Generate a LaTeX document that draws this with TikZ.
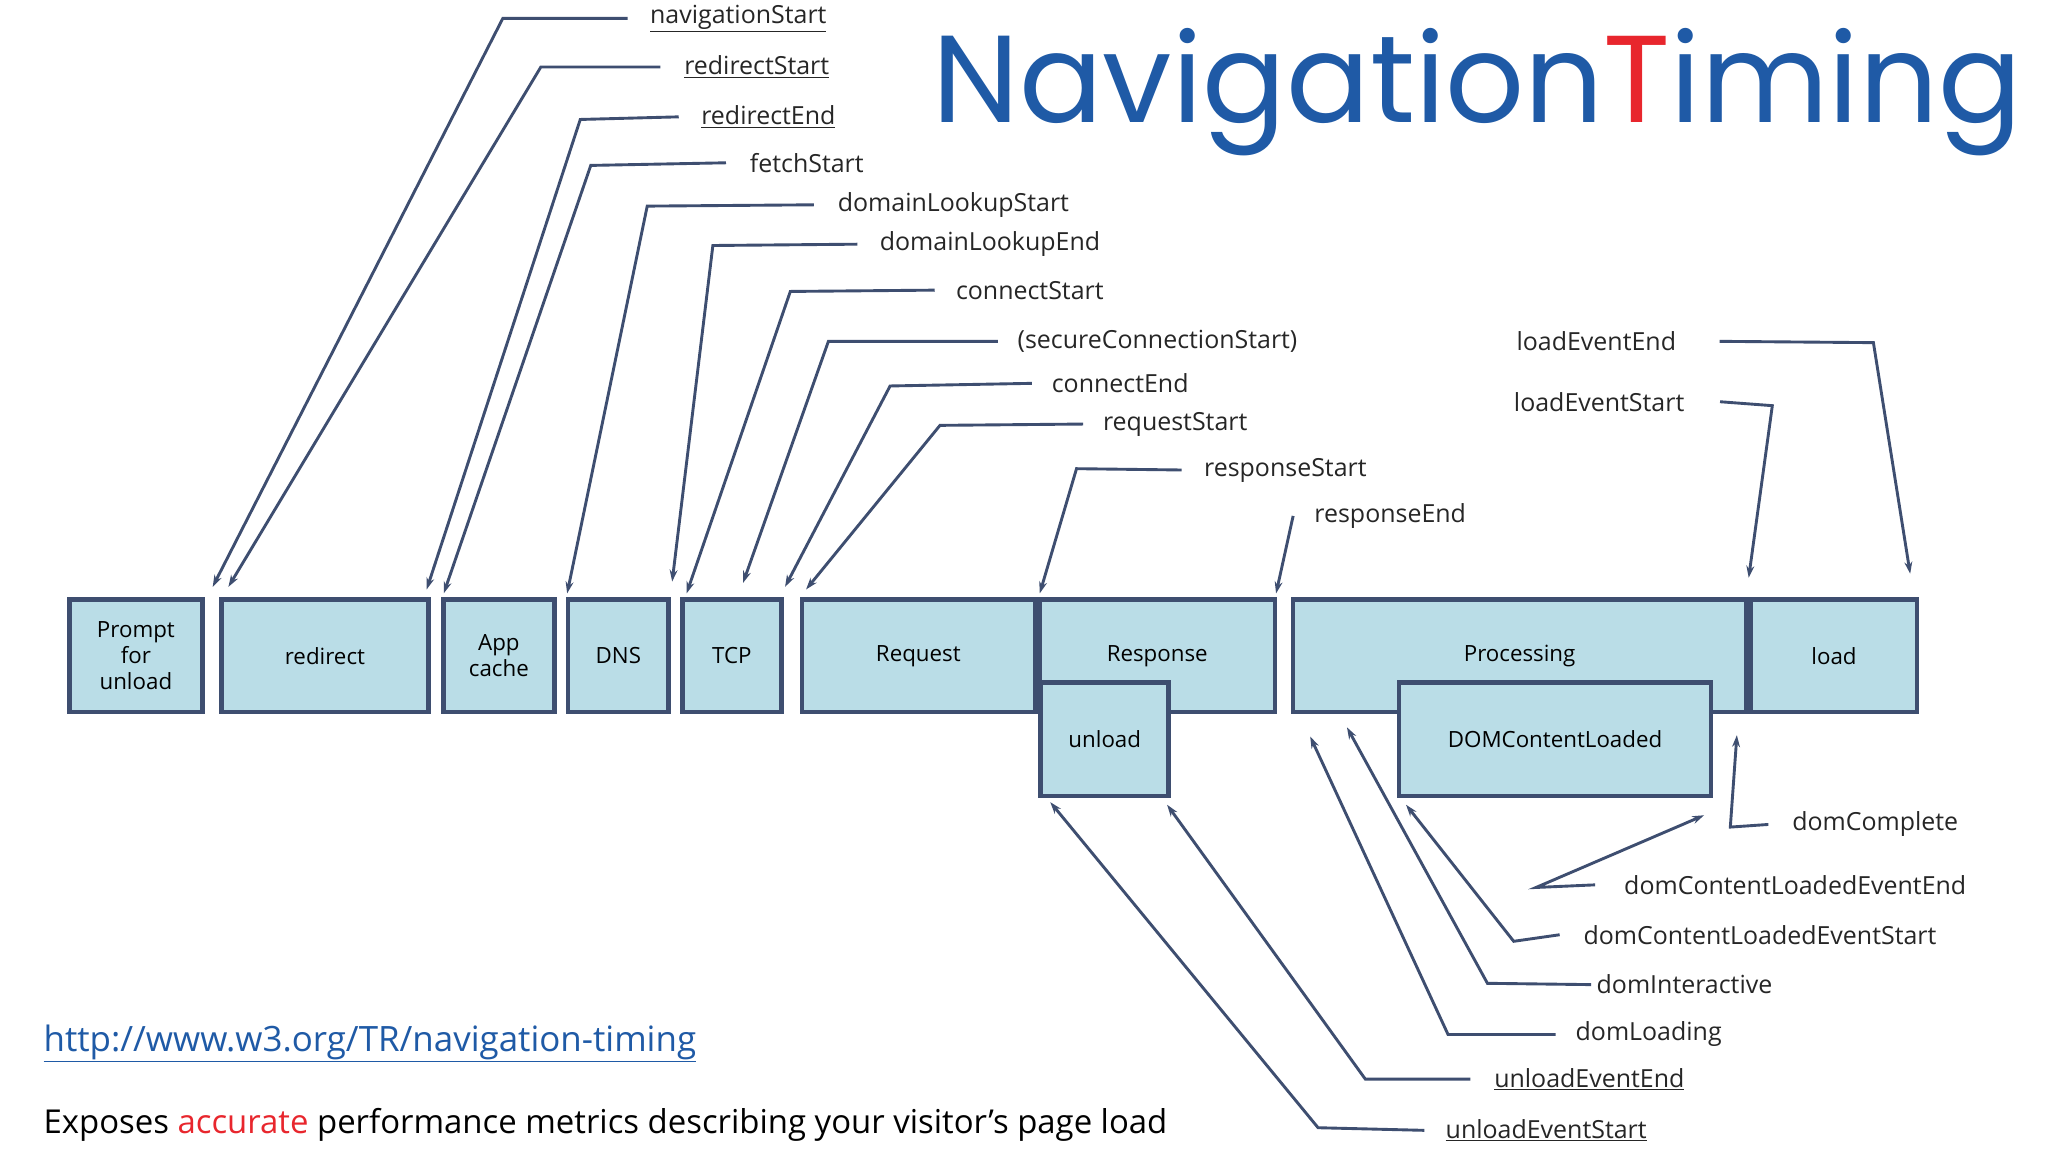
\documentclass[tikz,border=0pt]{standalone}
\usepackage{fontspec}
\setmainfont{Open Sans}
\newfontfamily\titlefont{Poppins}
\usetikzlibrary{arrows.meta}
\definecolor{boxfill}{HTML}{BADDE7}
\definecolor{edge}{HTML}{3E4E70}
\definecolor{ttl}{HTML}{1F5AA6}
\definecolor{tred}{HTML}{E8262D}
\definecolor{url}{HTML}{1F5AA6}
\begin{document}
\begin{tikzpicture}[x=1pt,y=-1pt,
  box/.style={draw=edge,line width=3.5pt,fill=boxfill,inner sep=0pt,font=\fontsize{17}{20}\selectfont,align=center},
  lab/.style={anchor=west,inner sep=0pt,font=\fontsize{19}{22}\selectfont,text=black!85},
  con/.style={draw=edge,line width=2.2pt,-{Stealth[length=9pt,width=6pt]}}]
\useasboundingbox (0,0) rectangle (1560,878);
\fill[white] (0,0) rectangle (1560,878);
\newcommand{\bx}[6]{\node[box,minimum width={#4-#2-3.5},minimum height={#5-#3-3.5}] (#1) at ({(#2+#4)/2},{(#3+#5)/2}) {#6};}
\bx{prompt}{51}{455}{156}{544}{Prompt\\for\\unload}
\bx{redirect}{167}{455}{328}{544}{redirect}
\bx{app}{336}{455}{424}{544}{App\\cache}
\bx{dns}{431}{455}{511}{544}{DNS}
\bx{tcp}{518}{455}{597}{544}{TCP}
\bx{request}{609}{455}{790}{544}{Request}
\bx{response}{790}{455}{973}{544}{Response}
\bx{unload}{791}{518}{892}{608}{unload}
\bx{processing}{983}{455}{1332}{544}{Processing}
\bx{load}{1332}{455}{1462}{544}{load}
\bx{dcl}{1064}{518}{1305}{608}{DOMContentLoaded}
\newcommand{\lb}[7]{\node[lab] (#1) at (#2,#3) {#4};
  \coordinate (#1b) at (#5); \coordinate (#1t) at (#6);
  \draw[con] ([xshift=#7]#1.west) -- (#1b) -- (#1t);}
\lb{ns}{495}{14}{\underline{navigationStart}}{383,14}{162,447}{-17pt}
\lb{rs}{521}{51}{\underline{redirectStart}}{412,51}{174,447}{-18pt}
\lb{re}{534}{89}{\underline{redirectEnd}}{442,91}{325,449}{-17pt}
\lb{fs}{571}{124}{fetchStart}{450,126}{338,452}{-18pt}
\lb{dls}{638}{156}{domainLookupStart}{493,157}{432,452}{-18pt}
\lb{dle}{670}{186}{domainLookupEnd}{543,187}{512,443}{-17pt}
\lb{cs}{728}{221}{connectStart}{602,222}{523,452}{-16pt}
\lb{scs}{775}{260}{(secureConnectionStart)}{631,260}{566,444}{-15pt}
\lb{ce}{801}{292}{connectEnd}{678,294}{598,447}{-15pt}
\lb{rqs}{840}{323}{requestStart}{716,324}{614,449}{-15pt}
\lb{rps}{917}{358}{responseStart}{820,357}{792,452}{-17pt}
\node[lab] (rpe) at (1001,393) {responseEnd};
\coordinate (rpet) at (972,452);
\draw[con] ([xshift=-16pt]rpe.west) -- (rpet);
\node[lab] (lee) at (1155,260) {loadEventEnd};
\coordinate (leeb) at (1427,261); \coordinate (leet) at (1455,437);
\draw[con] ([xshift=33pt]lee.east) -- (leeb) -- (leet);
\node[lab] (les) at (1153,306) {loadEventStart};
\coordinate (lesb) at (1350,309); \coordinate (lest) at (1332,440);
\draw[con] ([xshift=27pt]les.east) -- (lesb) -- (lest);
\lb{dc}{1365}{628}{domComplete}{1318,630}{1323,560}{-18pt}
\node[lab] (dcee) at (1237,674) {domContentLoadedEventEnd};
\coordinate (dceeb) at (1170,676); \coordinate (dceet) at (1298,621);
\draw[con] ([xshift=-22pt]dcee.west) -- (dceeb) -- (dceet);
\lb{dces}{1206}{712}{domContentLoadedEventStart}{1153,717}{1071,613}{-18pt}
\lb{di}{1216}{750}{domInteractive}{1133,749}{1026,554}{-4pt}
\lb{dl}{1200}{788}{domLoading}{1103,788}{998,561}{-15pt}
\lb{uee}{1138}{822}{\underline{unloadEventEnd}}{1040,822}{889,613}{-18pt}
\lb{ues}{1101}{861}{\underline{unloadEventStart}}{1004,859}{800,611}{-16pt}
\node[anchor=west,inner sep=0pt,font=\titlefont\fontsize{88}{90}\selectfont,text=ttl] (title) at (710,70) {\resizebox{830pt}{!}{Navigation\textcolor{tred}{T}iming}};
\node[anchor=west,inner sep=0pt,font=\fontsize{23}{26}\selectfont,text=url] (link) at (33,795) {\resizebox{497pt}{!}{\underline{http://www.w3.org/TR/navigation-timing}}};
\node[anchor=west,inner sep=0pt,font=\fontsize{23}{26}\selectfont] (desc) at (33,857) {\resizebox{856pt}{!}{Exposes \textcolor{tred}{accurate} performance metrics describing your visitor's page load}};
\end{tikzpicture}
\end{document}
